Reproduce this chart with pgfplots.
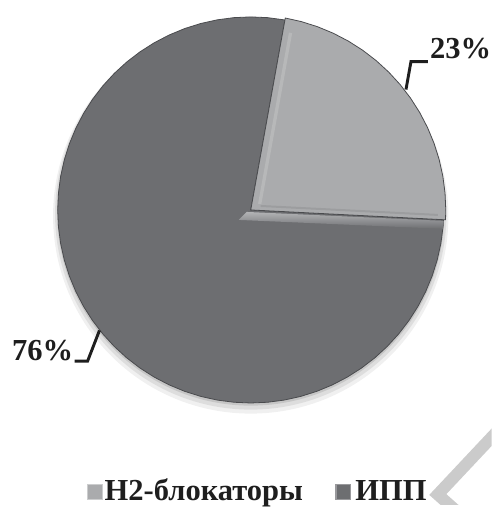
\documentclass[border=0pt]{standalone}
\usepackage{fontspec}
\setmainfont{Liberation Serif}
\usepackage{pgfplots}
\pgfplotsset{compat=1.18}
\definecolor{lightslice}{HTML}{AAABAD}
\definecolor{darkslice}{HTML}{6D6E71}
\definecolor{edgecol}{HTML}{4A4B4E}
\definecolor{wmark}{HTML}{CBCBCB}
\definecolor{txt}{HTML}{1E1E1E}
\begin{document}
\begin{tikzpicture}
\begin{axis}[
  x=0.75pt, y=0.75pt,
  xmin=-252, xmax=242, ymin=-296, ymax=211,
  hide axis, clip=false,
]
% watermark
\begin{scope}
\clip (axis cs:-252,-296) rectangle (axis cs:242,211);
\draw[wmark, line width=9pt, line join=miter] (axis cs:250,-220) -- (axis cs:188,-286) -- (axis cs:215,-310);
\end{scope}
% soft shadow
\fill[black, opacity=0.06] (axis cs:0,-6) circle [radius=149pt];
\fill[black, opacity=0.08] (axis cs:0,-4) circle [radius=147.5pt];
\fill[black, opacity=0.10] (axis cs:0,-2) circle [radius=146pt];
% dark slice (ИПП, 76%)
\addplot[data cs=polar, fill=darkslice, draw=edgecol, line width=0.6pt] coordinates {
(0,0) (-2.9,194) (-5,194) (-10,194) (-15,194) (-20,194) (-25,194) (-30,194) (-35,194) (-40,194)
(-45,194) (-50,194) (-55,194) (-60,194) (-65,194) (-70,194) (-75,194) (-80,194) (-85,194)
(-90,194) (-95,194) (-100,194) (-105,194) (-110,194) (-115,194) (-120,194) (-125,194) (-130,194)
(-135,194) (-140,194) (-145,194) (-150,194) (-155,194) (-160,194) (-165,194) (-170,194) (-175,194)
(-180,194) (-185,194) (-190,194) (-195,194) (-200,194) (-205,194) (-210,194) (-215,194) (-220,194)
(-225,194) (-230,194) (-235,194) (-240,194) (-245,194) (-250,194) (-255,194) (-260,194) (-265,194)
(-270,194) (-275,194) (-280.2,194)
} -- cycle;
% bevel band below light slice
\shade[top color=lightslice!90!white, bottom color=darkslice] (axis cs:-4,-2) -- (axis cs:194,-11) -- (axis cs:193,-19) -- (axis cs:-12,-10) -- cycle;
% light slice (H2-блокаторы, 23%)
\addplot[data cs=polar, fill=lightslice, draw=edgecol, line width=0.6pt] coordinates {
(0,0) (79.8,196) (75,196) (70,196) (65,196) (60,196) (55,196) (50,196) (45,196) (40,196)
(35,196) (30,196) (25,196) (20,196) (15,196) (10,196) (5,196) (0,196) (-2.9,196)
} -- cycle;
% inner bevel of light slice
\draw[lightslice!85!white, line width=2.5pt] (axis cs:9,6) -- (axis cs:40,178);
\draw[lightslice!92!black, line width=1.5pt] (axis cs:10,4) -- (axis cs:188,-5);
% leader lines
\draw[txt, line width=2.2pt] (axis cs:156,121) -- (axis cs:161,149) -- (axis cs:178,149);
\draw[txt, line width=2.2pt] (axis cs:-177,-152) -- (axis cs:-164,-152) -- (axis cs:-152,-121);
% data labels
\node[anchor=west, inner sep=0pt, text=txt, font=\fontsize{23}{27}\selectfont\bfseries] at (axis cs:180,162) {23\%};
\node[anchor=west, inner sep=0pt, text=txt, font=\fontsize{23}{27}\selectfont\bfseries] at (axis cs:-240,-141) {76\%};
% legend
\node[draw=lightslice!60!white, fill=lightslice, line width=0.8pt, minimum size=11pt, inner sep=0pt] at (axis cs:-156.5,-283.5) {};
\node[anchor=base west, inner sep=0pt, text=txt, font=\fontsize{23}{27}\selectfont\bfseries] at (axis cs:-147,-292) {Н2-блокаторы};
\node[draw=darkslice!70!white, fill=darkslice, line width=0.8pt, minimum size=11pt, inner sep=0pt] at (axis cs:93,-283.5) {};
\node[anchor=base west, inner sep=0pt, text=txt, font=\fontsize{23}{27}\selectfont\bfseries] at (axis cs:105,-292) {ИПП};
\end{axis}
\end{tikzpicture}
\end{document}
